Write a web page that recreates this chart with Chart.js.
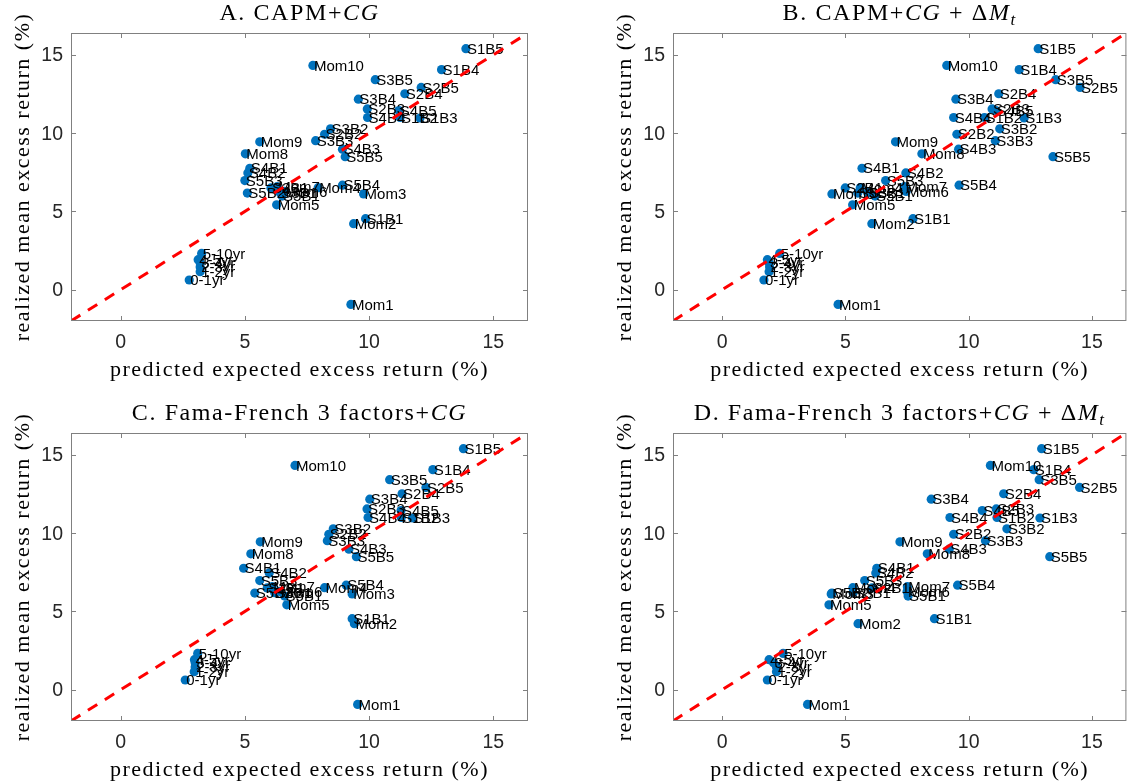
<!DOCTYPE html>
<html>
<head>
<meta charset="utf-8">
<script src="https://cdn.jsdelivr.net/npm/chart.js@4.4.1/dist/chart.umd.min.js"></script>
<style>
  html, body { margin: 0; padding: 0; background: #fff; overflow: hidden; }
  #wrap { position: relative; width: 1129px; height: 784px; overflow: hidden; }
  canvas { position: absolute; }
</style>
</head>
<body>
<div id="wrap">
  <canvas id="chartA" style="left:0;top:0" width="560" height="400"></canvas>
  <canvas id="chartB" style="left:560px;top:0" width="571" height="400"></canvas>
  <canvas id="chartC" style="left:0;top:400px" width="560" height="384"></canvas>
  <canvas id="chartD" style="left:560px;top:400px" width="571" height="384"></canvas>
</div>
<script>
// test assets: bond maturities, momentum deciles, size/B-M portfolios
const assetNames = ['0-1yr', '1-2yr', '2-3yr', '3-4yr', '4-5yr', '5-10yr',
  'Mom1', 'Mom2', 'Mom3', 'Mom4', 'Mom5', 'Mom6', 'Mom7', 'Mom8', 'Mom9', 'Mom10',
  'S1B1', 'S1B2', 'S1B3', 'S1B4', 'S1B5', 'S2B1', 'S2B2', 'S2B3', 'S2B4', 'S2B5',
  'S3B1', 'S3B2', 'S3B3', 'S3B4', 'S3B5', 'S4B1', 'S4B2', 'S4B3', 'S4B4', 'S4B5',
  'S5B1', 'S5B2', 'S5B3', 'S5B4', 'S5B5'];

// realized mean excess return (%), same in every panel
const realized = [0.62, 1.15, 1.45, 1.72, 1.92, 2.32,
  -0.94, 4.22, 6.12, 6.52, 5.42, 6.28, 6.58, 8.68, 9.45, 14.33,
  4.54, 11.0, 10.97, 14.06, 15.4, 6.5, 9.93, 11.55, 12.52, 12.92,
  6.2, 10.28, 9.52, 12.17, 13.42, 7.76, 7.46, 8.98, 11.0, 11.45,
  5.98, 6.17, 6.97, 6.68, 8.5];

// predicted expected excess return (%) per model
const predA = [2.76, 3.2, 3.2, 3.2, 3.12, 3.26,
  9.27, 9.38, 9.78, 7.95, 6.28, 6.6, 6.3, 5.02, 5.6, 7.74,
  9.86, 11.25, 12.05, 12.92, 13.9, 6.05, 8.21, 9.93, 11.44, 12.1,
  6.42, 8.45, 7.85, 9.57, 10.25, 5.2, 5.12, 8.93, 9.94, 11.2,
  6.5, 5.1, 5.0, 8.93, 9.04];
const predB = [1.69, 1.9, 1.92, 1.9, 1.83, 2.33,
  4.7, 6.07, 4.45, 5.6, 5.29, 7.46, 7.39, 8.1, 7.03, 9.11,
  7.74, 10.64, 12.25, 12.05, 12.82, 4.99, 9.52, 10.95, 11.22, 14.52,
  5.9, 11.26, 11.08, 9.48, 13.53, 5.67, 7.45, 9.59, 9.39, 11.1,
  6.2, 5.5, 6.63, 9.61, 13.42];
const predC = [2.6, 2.96, 3.0, 3.0, 2.97, 3.1,
  9.54, 9.41, 9.32, 8.21, 6.69, 6.4, 6.1, 5.24, 5.62, 7.02,
  9.32, 11.3, 11.75, 12.57, 13.8, 5.9, 8.38, 9.92, 11.33, 12.29,
  6.2, 8.56, 8.32, 10.03, 10.83, 4.95, 5.98, 9.19, 9.96, 11.29,
  6.6, 5.4, 5.6, 9.08, 9.49];
const predD = [1.83, 2.2, 2.2, 2.08, 1.9, 2.47,
  3.46, 5.51, 4.42, 5.3, 4.33, 7.5, 7.51, 8.32, 7.21, 10.88,
  8.61, 11.15, 12.89, 12.64, 12.96, 6.08, 9.39, 11.12, 11.42, 14.5,
  5.31, 11.55, 10.68, 8.48, 12.86, 6.27, 6.23, 9.21, 9.24, 10.55,
  7.54, 4.45, 5.78, 9.55, 13.29];

const tickValues = [0, 5, 10, 15];
const axisMin = -2, axisMax = 16.4;

// title pieces: [text, style] with n = upright, i = math italic, sub = subscript
const titleA = [['A. CAPM+', 'n'], ['CG', 'i']];
const titleB = [['B. CAPM+', 'n'], ['CG', 'i'], [' + ', 'n'], ['\u0394', 'n'], ['M', 'i'], ['t', 'sub']];
const titleC = [['C. Fama-French 3 factors+', 'n'], ['CG', 'i']];
const titleD = [['D. Fama-French 3 factors+', 'n'], ['CG', 'i'], [' + ', 'n'], ['\u0394', 'n'], ['M', 'i'], ['t', 'sub']];
const xLabel = 'predicted expected excess return (%)';
const yLabel = 'realized mean excess return (%)';

const SERIF = '"Liberation Serif", "Times New Roman", serif';
const SANS = '"Liberation Sans", Arial, sans-serif';

function segFont(style, size) {
  if (style === 'i') return `italic ${size}px ${SERIF}`;
  if (style === 'sub') return `italic ${Math.round(size * 0.7)}px ${SERIF}`;
  return `${size}px ${SERIF}`;
}

function drawRich(ctx, segs, cx, cy, size, spacing, angle) {
  ctx.save();
  ctx.translate(cx, cy);
  if (angle) ctx.rotate(angle);
  ctx.letterSpacing = spacing + 'px';
  ctx.textAlign = 'left';
  ctx.textBaseline = 'middle';
  ctx.fillStyle = '#000';
  const widths = segs.map(([t, st]) => { ctx.font = segFont(st, size); return ctx.measureText(t).width; });
  let x = -widths.reduce((a, b) => a + b, 0) / 2;
  segs.forEach(([t, st], i) => {
    ctx.font = segFont(st, size);
    ctx.fillText(t, x, st === 'sub' ? size * 0.28 : 0);
    x += widths[i];
  });
  ctx.restore();
}

const matlabAxes = {
  id: 'matlabAxes',
  afterDatasetDraw(chart, args) {
    if (args.index !== 0) return;
    const ctx = chart.ctx;
    ctx.save();
    ctx.font = `15px ${SANS}`;
    ctx.fillStyle = '#000';
    ctx.textAlign = 'left';
    ctx.textBaseline = 'middle';
    args.meta.data.forEach((pt, i) => ctx.fillText(assetNames[i], pt.x + 1, pt.y + 1));
    ctx.restore();
  },
  afterDraw(chart) {
    const ctx = chart.ctx;
    const { left, right, top, bottom } = chart.chartArea;
    const xs = chart.scales.x, ys = chart.scales.y;
    ctx.save();
    ctx.strokeStyle = '#808080';
    ctx.lineWidth = 1;
    ctx.strokeRect(left + 0.5, top + 0.5, right - left - 1, bottom - top - 1);
    ctx.beginPath();
    tickValues.forEach(v => {
      const px = Math.round(xs.getPixelForValue(v)) + 0.5;
      ctx.moveTo(px, bottom); ctx.lineTo(px, bottom - 5);
      ctx.moveTo(px, top); ctx.lineTo(px, top + 5);
      const py = Math.round(ys.getPixelForValue(v)) + 0.5;
      ctx.moveTo(left, py); ctx.lineTo(left + 5, py);
      ctx.moveTo(right, py); ctx.lineTo(right - 5, py);
    });
    ctx.stroke();

    ctx.fillStyle = '#262626';
    ctx.font = `19.5px ${SANS}`;
    ctx.textBaseline = 'middle';
    ctx.textAlign = 'center';
    tickValues.forEach(v => ctx.fillText(String(v), xs.getPixelForValue(v), bottom + 22));
    ctx.textAlign = 'right';
    tickValues.forEach(v => ctx.fillText(String(v), left - 8, ys.getPixelForValue(v) + 1));
    ctx.restore();

    const cx = (left + right) / 2;
    drawRich(ctx, chart.options.plugins.matlabAxes.title, cx, top - 19, 24, 1.6, 0);
    drawRich(ctx, [[xLabel, 'n']], cx, bottom + 49, 22, 1.5, 0);
    drawRich(ctx, [[yLabel, 'n']], left - 48, (top + bottom) / 2, 22, 1.5, -Math.PI / 2);
  }
};

function makePanel(canvasId, pred, title, pad) {
  const points = pred.map((x, i) => ({ x, y: realized[i] }));
  return new Chart(document.getElementById(canvasId), {
    type: 'scatter',
    data: {
      datasets: [
        {
          data: points,
          order: 1,
          pointRadius: 4.6,
          pointBackgroundColor: '#0072BD',
          pointBorderWidth: 0,
        },
        {
          data: [{ x: axisMin, y: axisMin }, { x: axisMax, y: axisMax }],
          order: 0,
          showLine: true,
          borderColor: '#ff0000',
          borderWidth: 3,
          borderDash: [11, 9],
          pointRadius: 0,
          fill: false,
        }
      ]
    },
    options: {
      responsive: false,
      animation: false,
      events: [],
      devicePixelRatio: 1,
      layout: { padding: pad },
      plugins: {
        legend: { display: false },
        tooltip: { enabled: false },
        matlabAxes: { title },
      },
      scales: {
        x: { type: 'linear', min: axisMin, max: axisMax, display: false },
        y: { type: 'linear', min: axisMin, max: axisMax, display: false },
      }
    },
    plugins: [matlabAxes]
  });
}

makePanel('chartA', predA, titleA, { left: 71, right: 32, top: 33, bottom: 79 });
makePanel('chartB', predB, titleB, { left: 113, right: 1, top: 33, bottom: 79 });
makePanel('chartC', predC, titleC, { left: 71, right: 32, top: 33, bottom: 63 });
makePanel('chartD', predD, titleD, { left: 113, right: 1, top: 33, bottom: 63 });
</script>
</body>
</html>
